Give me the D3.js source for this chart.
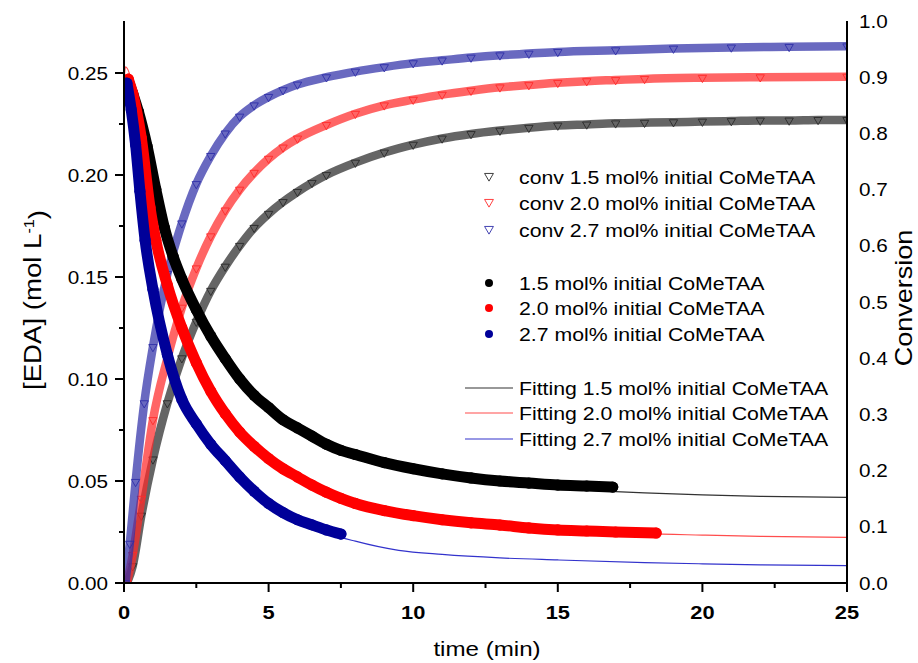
<!DOCTYPE html>
<html><head><meta charset="utf-8">
<script src="https://cdn.jsdelivr.net/npm/d3@7"></script>
<style>
body{margin:0;background:#fff}
svg{display:block}
text{font-family:"Liberation Sans",Arial,Helvetica,sans-serif;fill:#000}
</style>
</head><body>
<svg id="chart" width="918" height="663"></svg>
<script>
// ---------------- data ----------------
const xTicks = [0, 5, 10, 15, 20, 25];
const xMinorTicks = [2.5, 7.5, 12.5, 17.5, 22.5];
const yLeftTicks = [0, 0.05, 0.10, 0.15, 0.20, 0.25];
const yLeftMinorTicks = [0.025, 0.075, 0.125, 0.175, 0.225];
const yRightTicks = [0, 0.1, 0.2, 0.3, 0.4, 0.5, 0.6, 0.7, 0.8, 0.9, 1.0];

const seriesLabels = ["1.5 mol% initial CoMeTAA", "2.0 mol% initial CoMeTAA", "2.7 mol% initial CoMeTAA"];
const seriesColors = ["#000000", "#ff0000", "#000099"];
const convColors = ["#2a2a2a", "#ff2a2a", "#2f2fa8"];
const fitColors = ["#333333", "#ff4d4d", "#3333cc"];

// [EDA] measured (circles)
const edaTime15 = [0.15,0.3,0.5,0.8,1.1,1.4,1.7,2.0,2.5,3.0,3.5,4.0,4.5,5.0,5.5,6.0,6.5,7.0,7.5,8.0,9.0,10.0,11.0,12.0,13.0,14.0,15.0,16.0,16.9];
const eda15     = [0.246,0.240,0.231,0.214,0.193,0.174,0.160,0.149,0.134,0.121,0.110,0.100,0.092,0.086,0.080,0.076,0.072,0.068,0.065,0.063,0.059,0.056,0.0535,0.0515,0.050,0.049,0.048,0.0475,0.047];
const edaTime20 = [0.15,0.3,0.6,0.9,1.1,1.5,2.0,2.5,3.0,3.5,4.0,4.5,5.0,5.5,6.0,6.5,7.0,7.5,8.0,9.0,10.0,11.0,12.0,13.0,14.0,15.0,16.0,17.0,18.4];
const eda20     = [0.247,0.240,0.218,0.184,0.168,0.146,0.125,0.108,0.094,0.083,0.074,0.067,0.061,0.056,0.052,0.048,0.0445,0.0415,0.039,0.0355,0.033,0.031,0.0295,0.0284,0.027,0.026,0.0255,0.025,0.0245];
const edaTime27 = [0.1,0.25,0.4,0.55,0.73,1.0,1.5,2.0,2.5,3.0,3.5,4.0,4.5,5.0,5.5,6.0,6.5,7.0,7.5];
const eda27     = [0.245,0.232,0.215,0.192,0.168,0.144,0.112,0.090,0.078,0.068,0.060,0.052,0.045,0.039,0.0345,0.031,0.0285,0.026,0.024];

// fitting curves
const fitTime15 = [0,1,2,3,4,5,6,7,8,9,10,12,14,16,17,18,20,22,25];
const fit15     = [0.247,0.198,0.150,0.120,0.099,0.085,0.075,0.067,0.061,0.057,0.054,0.050,0.0475,0.0455,0.0448,0.0442,0.0432,0.0425,0.042];
const fitTime20 = [0,0.05,1,2,3,4,5,6,7,8,10,12,14,16,18,20,22,25];
const fit20     = [0.245,0.253,0.176,0.125,0.094,0.074,0.061,0.052,0.0445,0.039,0.033,0.0295,0.027,0.0255,0.0242,0.0235,0.0229,0.0224];
const fitTime27 = [0,0.5,1,1.5,2,3,4,5,6,7,7.5,8,9.5,11,13,15,18,20,22,25];
const fit27     = [0.247,0.190,0.143,0.111,0.089,0.067,0.051,0.039,0.031,0.026,0.0225,0.0205,0.016,0.014,0.0123,0.0113,0.0100,0.0094,0.0089,0.0085];

// conversion (triangles, right axis)
const convTime15 = [0.1,0.3,0.6,1.0,1.5,2.0,2.5,3.0,3.5,4.0,4.5,5.0,5.5,6.0,6.5,7.0,8.0,9.0,10.0,11.0,12.0,13.0,14.0,15.0,16.0,17.0,18.0,19.0,20.0,21.0,22.0,23.0,24.0,25.0];
const conv15     = [0.0,0.03,0.12,0.22,0.32,0.40,0.465,0.52,0.563,0.60,0.632,0.657,0.678,0.696,0.712,0.726,0.748,0.766,0.780,0.791,0.799,0.805,0.810,0.814,0.816,0.818,0.819,0.820,0.821,0.822,0.823,0.823,0.824,0.824];
const convTime20 = [0.1,0.3,0.6,1.0,1.5,2.0,2.5,3.0,3.5,4.0,4.5,5.0,5.5,6.0,7.0,8.0,9.0,10.0,11.0,12.0,13.0,14.0,15.0,16.0,17.0,18.0,20.0,22.0,25.0];
const conv20     = [0.0,0.05,0.15,0.29,0.40,0.49,0.56,0.617,0.663,0.70,0.73,0.755,0.775,0.791,0.815,0.835,0.85,0.86,0.869,0.876,0.882,0.886,0.89,0.893,0.895,0.897,0.899,0.90,0.901];
const convTime27 = [0.05,0.2,0.4,0.7,1.0,1.5,2.0,2.5,3.0,3.5,4.0,4.5,5.0,5.5,6.0,7.0,8.0,9.0,10.0,11.0,12.0,13.0,14.0,15.0,17.0,19.0,21.0,23.0,25.0];
const conv27     = [0.0,0.07,0.18,0.32,0.42,0.55,0.64,0.71,0.76,0.80,0.83,0.85,0.865,0.877,0.887,0.90,0.91,0.918,0.925,0.93,0.935,0.939,0.942,0.945,0.948,0.951,0.953,0.954,0.955];

// ---------------- drawing ----------------
const zip = (a, b) => a.map((v, i) => [v, b[i]]);
const edaSeries  = [zip(edaTime15, eda15), zip(edaTime20, eda20), zip(edaTime27, eda27)];
const fitSeries  = [zip(fitTime15, fit15), zip(fitTime20, fit20), zip(fitTime27, fit27)];
const convSeries = [zip(convTime15, conv15), zip(convTime20, conv20), zip(convTime27, conv27)];

const m = {left: 124, right: 847, top: 21, bottom: 583};
const STRETCH = 1.15;

const svg = d3.select("#chart");
const x  = d3.scaleLinear().domain([0, 25]).range([m.left, m.right]);
const yL = d3.scaleLinear().domain([0, 0.2755]).range([m.bottom, m.top]);
const yR = d3.scaleLinear().domain([0, 1]).range([m.bottom, m.top]);

svg.append("defs").append("clipPath").attr("id", "clip")
  .append("rect").attr("x", m.left).attr("y", m.top - 10).attr("width", m.right - m.left).attr("height", m.bottom - m.top + 10);

const plot = svg.append("g").attr("clip-path", "url(#clip)");

const curve = d3.curveMonotoneX;
const lineR = d3.line().x(d => x(d[0])).y(d => yR(d[1])).curve(curve);
const lineL = d3.line().x(d => x(d[0])).y(d => yL(d[1])).curve(curve);

const tri = d3.symbol().type(d3.symbolTriangle).size(30);

// conversion bands + hollow triangles
convSeries.forEach((s, i) => {
  plot.append("path").attr("d", lineR(s)).attr("fill", "none")
    .attr("stroke", convColors[i]).attr("stroke-width", 8.5).attr("stroke-opacity", 0.72)
    .attr("stroke-linecap", "butt");
  plot.append("g").selectAll("path").data(s).join("path")
    .attr("d", tri)
    .attr("transform", d => `translate(${x(d[0])},${yR(d[1])}) rotate(180)`)
    .attr("fill", "none").attr("stroke", convColors[i]).attr("stroke-width", 0.9);
});

// fitting lines
fitSeries.forEach((s, i) => {
  plot.append("path").attr("d", lineL(s)).attr("fill", "none")
    .attr("stroke", fitColors[i]).attr("stroke-width", 1.2);
});

// measured [EDA] (dense circle bands)
edaSeries.forEach((s, i) => {
  plot.append("path").attr("d", lineL(s)).attr("fill", "none")
    .attr("stroke", seriesColors[i]).attr("stroke-width", 11)
    .attr("stroke-linecap", "round").attr("stroke-linejoin", "round");
  plot.append("g").selectAll("circle").data(s).join("circle")
    .attr("cx", d => x(d[0])).attr("cy", d => yL(d[1])).attr("r", 5.6)
    .attr("fill", seriesColors[i]);
});

// ---------------- axes ----------------
const axisG = svg.append("g").attr("stroke", "#000").attr("stroke-width", 2).attr("fill", "none");
axisG.append("line").attr("x1", m.left).attr("x2", m.right).attr("y1", m.bottom).attr("y2", m.bottom);
axisG.append("line").attr("x1", m.left).attr("x2", m.left).attr("y1", m.top).attr("y2", m.bottom);
axisG.append("line").attr("x1", m.right).attr("x2", m.right).attr("y1", m.top).attr("y2", m.bottom);

axisG.selectAll(".xt").data(xTicks).join("line")
  .attr("x1", d => x(d)).attr("x2", d => x(d)).attr("y1", m.bottom).attr("y2", m.bottom + 9);
axisG.selectAll(".xm").data(xMinorTicks).join("line")
  .attr("x1", d => x(d)).attr("x2", d => x(d)).attr("y1", m.bottom).attr("y2", m.bottom + 5);
axisG.selectAll(".yt").data(yLeftTicks).join("line")
  .attr("x1", m.left - 9).attr("x2", m.left).attr("y1", d => yL(d)).attr("y2", d => yL(d));
axisG.selectAll(".ym").data(yLeftMinorTicks).join("line")
  .attr("x1", m.left - 5).attr("x2", m.left).attr("y1", d => yL(d)).attr("y2", d => yL(d));

function sText(g, x0, y0, str, opts = {}) {
  return g.append("g").attr("transform", `translate(${x0},${y0})${opts.rotate ? " rotate(" + opts.rotate + ")" : ""}`)
    .append("text").attr("transform", `scale(${STRETCH},1)`)
    .attr("text-anchor", opts.anchor || "start")
    .style("font-size", (opts.size || 18) + "px")
    .style("font-weight", opts.weight || "normal")
    .text(str);
}

const labels = svg.append("g");
xTicks.forEach(d => sText(labels, x(d), 619, String(d), {anchor: "middle", size: 19, weight: "bold"}));
yLeftTicks.forEach(d => sText(labels, 108, yL(d) + 6.5, d3.format(".2f")(d), {anchor: "end", size: 18}));
yRightTicks.forEach(d => sText(labels, 859, yR(d) + 6.5, d3.format(".1f")(d), {anchor: "start", size: 18}));

sText(labels, 487, 656, "time (min)", {anchor: "middle", size: 21});
sText(labels, 912, 298, "Conversion", {anchor: "middle", size: 23.5, rotate: -90});
const yt = sText(labels, 41, 300, "[EDA] (mol L", {anchor: "middle", size: 24, rotate: -90});
yt.append("tspan").attr("dy", "-0.5em").style("font-size", "14px").text("-1");
yt.append("tspan").attr("dy", "0.5em").text(")");

// ---------------- legend ----------------
const leg = svg.append("g");
const convRows = [177, 203, 230];
const ptRows = [283, 308, 334];
const fitRows = [388, 413, 439];
const symX = 489, textX = 519;
seriesLabels.forEach((lab, i) => {
  leg.append("path").attr("d", d3.symbol().type(d3.symbolTriangle).size(34)())
    .attr("transform", `translate(${symX},${convRows[i] - 1}) rotate(180)`)
    .attr("fill", "none").attr("stroke", convColors[i]).attr("stroke-width", 0.9);
  sText(leg, textX, convRows[i] + 6.5, "conv " + lab, {size: 18.5});

  leg.append("circle").attr("cx", symX).attr("cy", ptRows[i]).attr("r", 4).attr("fill", seriesColors[i]);
  sText(leg, textX, ptRows[i] + 6.5, lab, {size: 18.5});

  leg.append("line").attr("x1", 465).attr("x2", 513).attr("y1", fitRows[i]).attr("y2", fitRows[i])
    .attr("stroke", fitColors[i]).attr("stroke-width", 1.2);
  sText(leg, textX, fitRows[i] + 6.5, "Fitting " + lab, {size: 18.5});
});
</script>
</body></html>
